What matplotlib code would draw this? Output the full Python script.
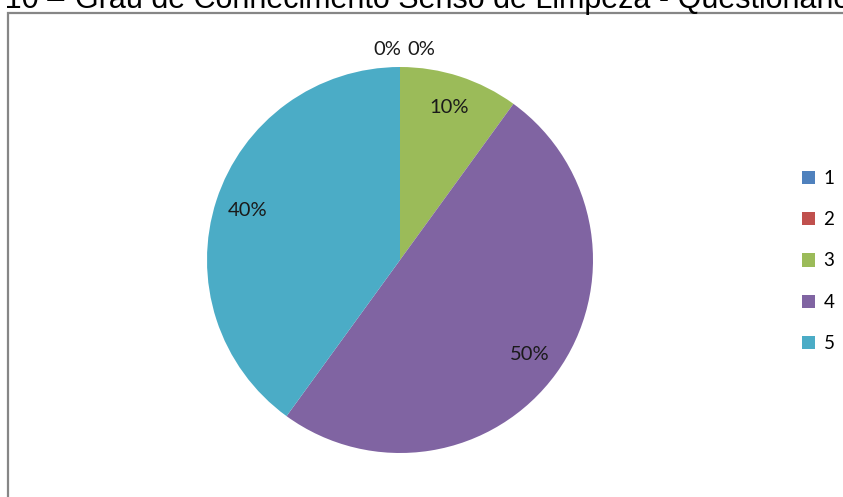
import matplotlib.pyplot as plt
from matplotlib.patches import Rectangle

# respostas do questionário (nota 1 a 5) em percentual
categorias = ["1", "2", "3", "4", "5"]
percentuais = [0, 0, 10, 50, 40]
cores = ["#4F81BD", "#C0504D", "#9BBB59", "#8064A2", "#4BACC6"]

titulo_num = "Gráfico 10 –"
titulo = "Grau de Conhecimento Senso de Limpeza - Questionário"

W, H = 843, 497
fig = plt.figure(figsize=(W / 100, H / 100), dpi=100)
fig.patch.set_facecolor("white")

# eixo ocupando a figura toda, 1 unidade = raio da pizza
cx, cy, r = 400, 260, 193
ax = fig.add_axes([0, 0, 1, 1])
wedges, textos, autotextos = ax.pie(
    percentuais,
    colors=cores,
    startangle=90,
    counterclock=False,
    autopct=lambda p: f"{p:.0f}%",
    pctdistance=0.83,
    wedgeprops=dict(linewidth=0),
    textprops=dict(fontfamily="Lato", fontsize=14.5, color="#1a1a1a"),
)
ax.set_xlim(-cx / r, (W - cx) / r)
ax.set_ylim(-(H - cy) / r, cy / r)
ax.set_aspect("equal", adjustable="box")
ax.axis("off")

# rótulos das fatias com 0% ficam acima da pizza
pos_zero = [(-0.067, 1.09), (0.109, 1.09)]
k = 0
for t, v in zip(autotextos, percentuais):
    if v == 0:
        t.set_position(pos_zero[k])
        k += 1

# moldura do gráfico
fig.patches.append(Rectangle((8 / W, -0.1), 1.2, (H - 12.5) / H + 0.1,
                             transform=fig.transFigure, fill=False,
                             edgecolor="#868686", linewidth=1.6))

# título (cortado no topo)
fig.text(64 / W, 1 - 8 / H, titulo_num, ha="right", va="baseline",
         fontfamily="Liberation Sans", fontsize=22)
fig.text(75 / W, 1 - 8 / H, titulo, ha="left", va="baseline",
         fontfamily="Liberation Sans", fontsize=22)

leg = ax.legend(wedges, categorias, loc="center left",
                bbox_to_anchor=(785 / W, 1 - 261 / H), bbox_transform=fig.transFigure,
                frameon=False, handlelength=0.7, handleheight=0.7,
                handletextpad=0.45, labelspacing=1.3,
                prop=dict(family="Lato", size=13.5))

fig.savefig("out.png", dpi=100)
